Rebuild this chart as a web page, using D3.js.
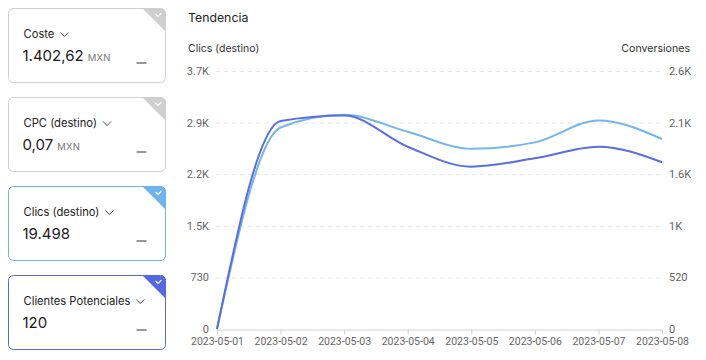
<!DOCTYPE html>
<html><head><meta charset="utf-8">
<script src="https://cdn.jsdelivr.net/npm/d3@7"></script>
<style>
body{margin:0;background:#fff;}
svg{display:block;font-family:Inter, "Noto Sans", sans-serif;}
</style></head>
<body><svg id="c" width="706" height="360"></svg>
<script>
const dates = ["2023-05-01","2023-05-02","2023-05-03","2023-05-04","2023-05-05","2023-05-06","2023-05-07","2023-05-08"];
const clicsValues = [0, 2850, 3030, 2790, 2550, 2640, 2950, 2688];
const conversionValues = [0, 2096, 2152, 1837, 1636, 1720, 1837, 1680];
const leftTicks = [0, 730, 1460, 2190, 2920, 3650];
const leftTickLabels = ["0", "730", "1.5K", "2.2K", "2.9K", "3.7K"];
const rightTicks = [0, 520, 1040, 1560, 2080, 2600];
const rightTickLabels = ["0", "520", "1K", "1.6K", "2.1K", "2.6K"];
const cardTitles = ["Coste", "CPC (destino)", "Clics (destino)", "Clientes Potenciales"];
const cardValues = ["1.402,62", "0,07", "19.498", "120"];
const cardUnits = ["MXN", "MXN", "", ""];
const cardColors = ["#cfcfcf", "#cfcfcf", "#6db3ec", "#5468e2"];

const svg = d3.select("#c");

// Cards
const cardTop = d3.scaleLinear().domain([0, 1]).range([8.5, 97.5]);
cardTitles.forEach((t, i) => {
  const y = cardTop(i);
  const g = svg.append("g").attr("transform", `translate(8.5,${y})`);
  const w = 157, h = 74;
  g.append("rect").attr("width", w).attr("height", h).attr("rx", 5)
    .attr("fill", "#fff").attr("stroke", cardColors[i]).attr("stroke-width", 1);
  g.append("path").attr("d", `M${w-23},0 L${w-5},0 Q${w},0 ${w},5 L${w},23 Z`).attr("fill", cardColors[i]);
  g.append("path").attr("d", `M${w-10},5.5 l2.5,2.5 l3.5,-3.5`).attr("fill", "none")
    .attr("stroke", "#fff").attr("stroke-width", 1.1);
  const title = g.append("text").attr("x", 15).attr("y", 29).attr("font-size", 11.2)
    .attr("fill", "#222").text(t);
  const tw = title.node().getComputedTextLength();
  g.append("path").attr("d", `M${15+tw+6},${24} l4,4 l4,-4`).attr("fill", "none")
    .attr("stroke", "#444").attr("stroke-width", 1);
  const val = g.append("text").attr("x", 14).attr("y", 52).attr("font-size", 15)
    .attr("fill", "#1a1a1a").text(cardValues[i]);
  if (cardUnits[i]) {
    const vw = val.node().getComputedTextLength();
    g.append("text").attr("x", 14 + vw + 4).attr("y", 52).attr("font-size", 9.5)
      .attr("fill", "#777").attr("letter-spacing", 0.3).text(cardUnits[i]);
  }
  g.append("line").attr("x1", 128).attr("x2", 138).attr("y1", 54.5).attr("y2", 54.5)
    .attr("stroke", "#333").attr("stroke-width", 1);
});

// Chart
const x = d3.scalePoint().domain(dates).range([217, 662]);
const yL = d3.scaleLinear().domain([0, 3650]).range([329, 71]);
const yR = d3.scaleLinear().domain([0, 2600]).range([329, 71]);

svg.append("text").attr("x", 188).attr("y", 22).attr("font-size", 12.3).attr("fill", "#222").text("Tendencia");
svg.append("text").attr("x", 188).attr("y", 52).attr("font-size", 10.5).attr("fill", "#333").text("Clics (destino)");
svg.append("text").attr("x", 690).attr("y", 52).attr("font-size", 10.6).attr("fill", "#333")
  .attr("text-anchor", "end").text("Conversiones");

svg.append("g").selectAll("line").data(leftTicks.slice(1)).join("line")
  .attr("x1", 216).attr("x2", 661).attr("y1", d => yL(d) + 0.5).attr("y2", d => yL(d) + 0.5)
  .attr("stroke", "#e4e4e4").attr("stroke-dasharray", "4,4");

const tickFont = "Roboto, sans-serif";
const axL = d3.axisLeft(yL).tickValues(leftTicks).tickFormat((d, i) => leftTickLabels[i]).tickSize(0).tickPadding(0);
const gL = svg.append("g").attr("transform", "translate(209,0)").call(axL);
gL.select(".domain").remove();
gL.selectAll("text").attr("font-size", 11).attr("fill", "#666").attr("font-family", tickFont);

const axR = d3.axisRight(yR).tickValues(rightTicks).tickFormat((d, i) => rightTickLabels[i]).tickSize(0).tickPadding(0);
const gR = svg.append("g").attr("transform", "translate(669,0)").call(axR);
gR.select(".domain").remove();
gR.selectAll("text").attr("font-size", 11).attr("fill", "#666").attr("font-family", tickFont);

const axB = d3.axisBottom(x).tickSize(5).tickSizeOuter(0).tickPadding(3);
const gB = svg.append("g").attr("transform", "translate(0,329.5)").call(axB);
gB.select(".domain").attr("stroke", "#d0d0d0");
gB.selectAll(".tick line").attr("stroke", "#d0d0d0");
gB.selectAll("text").attr("font-size", 10.5).attr("fill", "#666").attr("font-family", tickFont);

const lineL = d3.line().x((d, i) => x(dates[i])).y(d => yL(d)).curve(d3.curveMonotoneX);
const lineR = d3.line().x((d, i) => x(dates[i])).y(d => yR(d)).curve(d3.curveMonotoneX);
svg.append("path").datum(clicsValues).attr("d", lineL).attr("fill", "none")
  .attr("stroke", "#74b6ee").attr("stroke-width", 2);
svg.append("path").datum(conversionValues).attr("d", lineR).attr("fill", "none")
  .attr("stroke", "#5a6ee3").attr("stroke-width", 2);
</script></body></html>
